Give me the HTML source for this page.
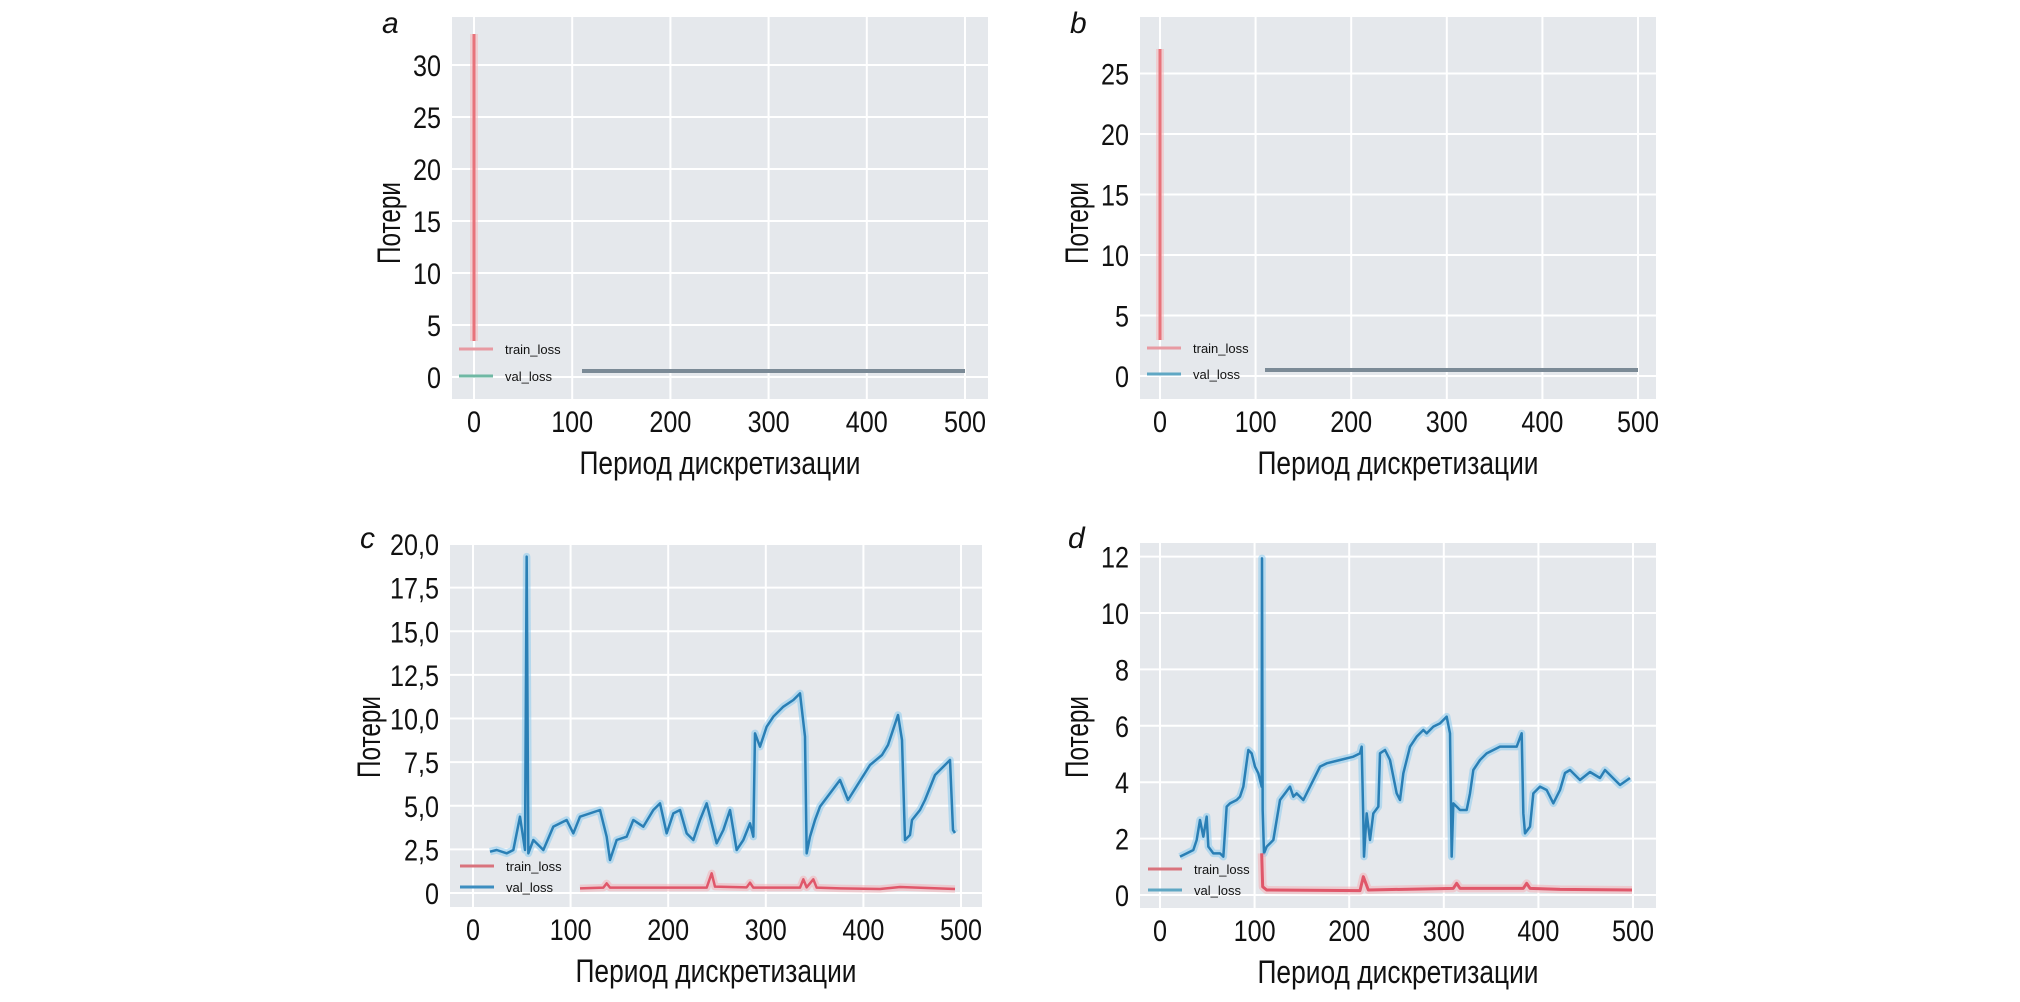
<!DOCTYPE html>
<html><head><meta charset="utf-8"><style>
html,body{margin:0;padding:0;background:#fff;}
svg text{font-family:"Liberation Sans",sans-serif;fill:#111;}
</style></head><body>
<svg id="s" width="2020" height="997" xmlns="http://www.w3.org/2000/svg"></svg>
<script>
const S=document.getElementById('s');let h='';
function T(x,y,t,fs,anchor,len,extra){h+=`<text x="${x}" y="${y}" font-size="${fs}" text-anchor="${anchor}" ${len?`textLength="${len}" lengthAdjust="spacingAndGlyphs"`:''} ${extra||''}>${t}</text>`;}
function tw(t){let w=0;for(const c of t){w+=(c===','?7:14);}return w;}
function panel(P){
 const {L,Tp,R,B,x0,xs,y0,ys,yt,ylab,letter,lx,ly,yl}=P;
 h+=`<rect x="${L}" y="${Tp}" width="${R-L}" height="${B-Tp}" fill="#e5e8ec"/>`;
 for(let v=0;v<=500;v+=100){const x=x0+v*xs;h+=`<line x1="${x}" y1="${Tp}" x2="${x}" y2="${B}" stroke="#fff" stroke-width="2"/>`;
  T(x,B+33,String(v),30,'middle',tw(String(v)));}
 yt.forEach((v,i)=>{const y=y0-v*ys;h+=`<line x1="${L}" y1="${y}" x2="${R}" y2="${y}" stroke="#fff" stroke-width="2"/>`;
  T(L-11,y+11,ylab[i],30,'end',tw(ylab[i]));});
 T((L+R)/2,B+75,'Период дискретизации',32,'middle',281);
 h+=`<text x="0" y="0" font-size="32" text-anchor="middle" textLength="82" lengthAdjust="spacingAndGlyphs" transform="translate(${L-(P.yo||46)},${yl}) rotate(-90)">Потери</text>`;
 T(lx,ly,letter,30,'start',0,'font-style="italic"');
}
function line(pts,col,w,halo){
 const d=pts.map(p=>p.join(',')).join(' ');
 if(halo)h+=`<polyline points="${d}" fill="none" stroke="${halo}" stroke-width="${w+5}" stroke-opacity="0.55" stroke-linejoin="round"/>`;
 h+=`<polyline points="${d}" fill="none" stroke="${col}" stroke-width="${w}" stroke-linejoin="round"/>`;
}
function legend(x,y1,y2,c1,c2){
 h+=`<line x1="${x}" y1="${y1}" x2="${x+34}" y2="${y1}" stroke="${c1}" stroke-width="3"/>`;
 h+=`<line x1="${x}" y1="${y2}" x2="${x+34}" y2="${y2}" stroke="${c2}" stroke-width="3"/>`;
 h+=`<text x="${x+46}" y="${y1+5}" font-size="13" fill="#444">train_loss</text>`;
 h+=`<text x="${x+46}" y="${y2+5}" font-size="13" fill="#444">val_loss</text>`;
}
// a
panel({L:452,Tp:17,R:988,B:399,x0:474,xs:0.982,y0:377,ys:10.4,yt:[0,5,10,15,20,25,30],ylab:['0','5','10','15','20','25','30'],letter:'a',lx:382,ly:33,yl:223,yo:52});
line([[474,34],[474,341]],'#e8737b',3,'#f5b8bc');
line([[582,371],[965,371]],'#7b8a96',4);
legend(459,349,376,'#e89aa2','#6fb8a4');
// b
panel({L:1140,Tp:17,R:1656,B:399,x0:1160,xs:0.956,y0:376,ys:12.1,yt:[0,5,10,15,20,25],ylab:['0','5','10','15','20','25'],letter:'b',lx:1070,ly:33,yl:223,yo:52});
line([[1160,49],[1160,340]],'#e8737b',3,'#f5b8bc');
line([[1265,370],[1638,370]],'#7b8a96',4);
legend(1147,348,374,'#e89aa2','#5fa7c4');
// c
panel({L:450,Tp:543,R:982,B:907,x0:473,xs:0.976,y0:893,ys:17.45,yt:[0,2.5,5,7.5,10,12.5,15,17.5,20],ylab:['0','2,5','5,0','7,5','10,0','12,5','15,0','17,5','20,0'],letter:'c',lx:360,ly:548,yl:737,yo:70});
const cz=[[450,995],[470,990],[500,1000],[520,990],[540,890],[555,990],[560,110],[565,1000],[580,960],[610,990],[640,920],[680,900],[700,940],[720,890],[780,870],[800,950],[810,1020],[830,960],[860,950],[880,900],[910,920],[940,870],[960,850],[980,940],[1000,880],[1020,870],[1040,940],[1060,960],[1080,900],[1100,850],[1120,930],[1130,970],[1150,930],[1170,870],[1190,990],[1210,960],[1230,910],[1240,950],[1245,640],[1260,680],[1280,620],[1300,590],[1330,560],[1360,540],[1380,520],[1395,650],[1400,1000],[1410,950],[1425,900],[1440,860],[1500,780]].map(p=>[340+p[0]/3,520+p[1]/3]);
const cz2=[[848,800],[870,765],[882,755],[888,745],[898,715],[902,740],[905,840],[910,835],[912,820],[920,810],[925,800],[935,775],[950,760],[953,830],[955,833]];
line(cz.concat(cz2),'#2a7fb5',2.5,'#8ccbef');
const ct=[[720,1105],[790,1103],[800,1090],[810,1103],[1100,1103],[1115,1060],[1125,1100],[1220,1102],[1230,1088],[1240,1103],[1380,1103],[1390,1078],[1400,1102],[1420,1078],[1430,1103],[1500,1105]].map(p=>[340+p[0]/3,520+p[1]/3]);
line(ct.concat([[880,889],[900,887],[955,889]]),'#e0576a',2.5,'#f3b0b8');
legend(460,866,887,'#d9737d','#3d8ec0');
// d
panel({L:1140,Tp:543,R:1656,B:908,x0:1160,xs:0.946,y0:895,ys:28.2,yt:[0,2,4,6,8,10,12],ylab:['0','2','4','6','8','10','12'],letter:'d',lx:1068,ly:548,yl:737,yo:52});
const dz=[[360,1010],[380,1000],[400,990],[410,960],[420,900],[430,950],[440,890],[445,980],[460,1000],[480,1000],[490,1010],[500,860],[510,850],[530,840],[540,830],[550,800],[565,690],[575,700],[585,740],[595,760],[605,800],[606,115],[608,870],[612,1000],[620,980],[640,960],[660,840],[675,820],[690,800],[700,830],[710,820],[730,840],[750,800],[780,740],[800,730],[840,720],[880,710],[900,700],[905,680],[910,900],[912,1010],[920,880],[930,960],[940,880],[955,860],[960,700],[975,690],[990,720],[1010,820],[1020,840],[1030,760],[1050,680],[1070,650],[1090,630],[1100,640],[1120,620],[1140,610],[1160,590],[1170,640],[1175,1010],[1180,850],[1190,860],[1200,870],[1220,870],[1230,820],[1240,750],[1260,720],[1280,700],[1300,690],[1320,680],[1350,680],[1370,680],[1385,640],[1390,880],[1395,940],[1410,920],[1420,820],[1440,800],[1460,810],[1480,850],[1500,810]].map(p=>[1060+p[0]/3,520+p[1]/3]);
const dz2=[[1565,773],[1570,770],[1580,780],[1590,772],[1600,778],[1605,770],[1620,785],[1630,778]];
line(dz.concat(dz2),'#2a7fb5',2.5,'#8ccbef');
const dt=[[605,1000],[608,1100],[620,1110],[900,1112],[910,1070],[925,1110],[1180,1105],[1190,1090],[1200,1105],[1390,1105],[1400,1090],[1410,1105],[1500,1108]].map(p=>[1060+p[0]/3,520+p[1]/3]);
line(dt.concat([[1632,890]]),'#e0576a',3,'#f3b0b8');
legend(1148,869,890,'#d9737d','#5fa7c4');
S.innerHTML=h;
</script>
</body></html>
